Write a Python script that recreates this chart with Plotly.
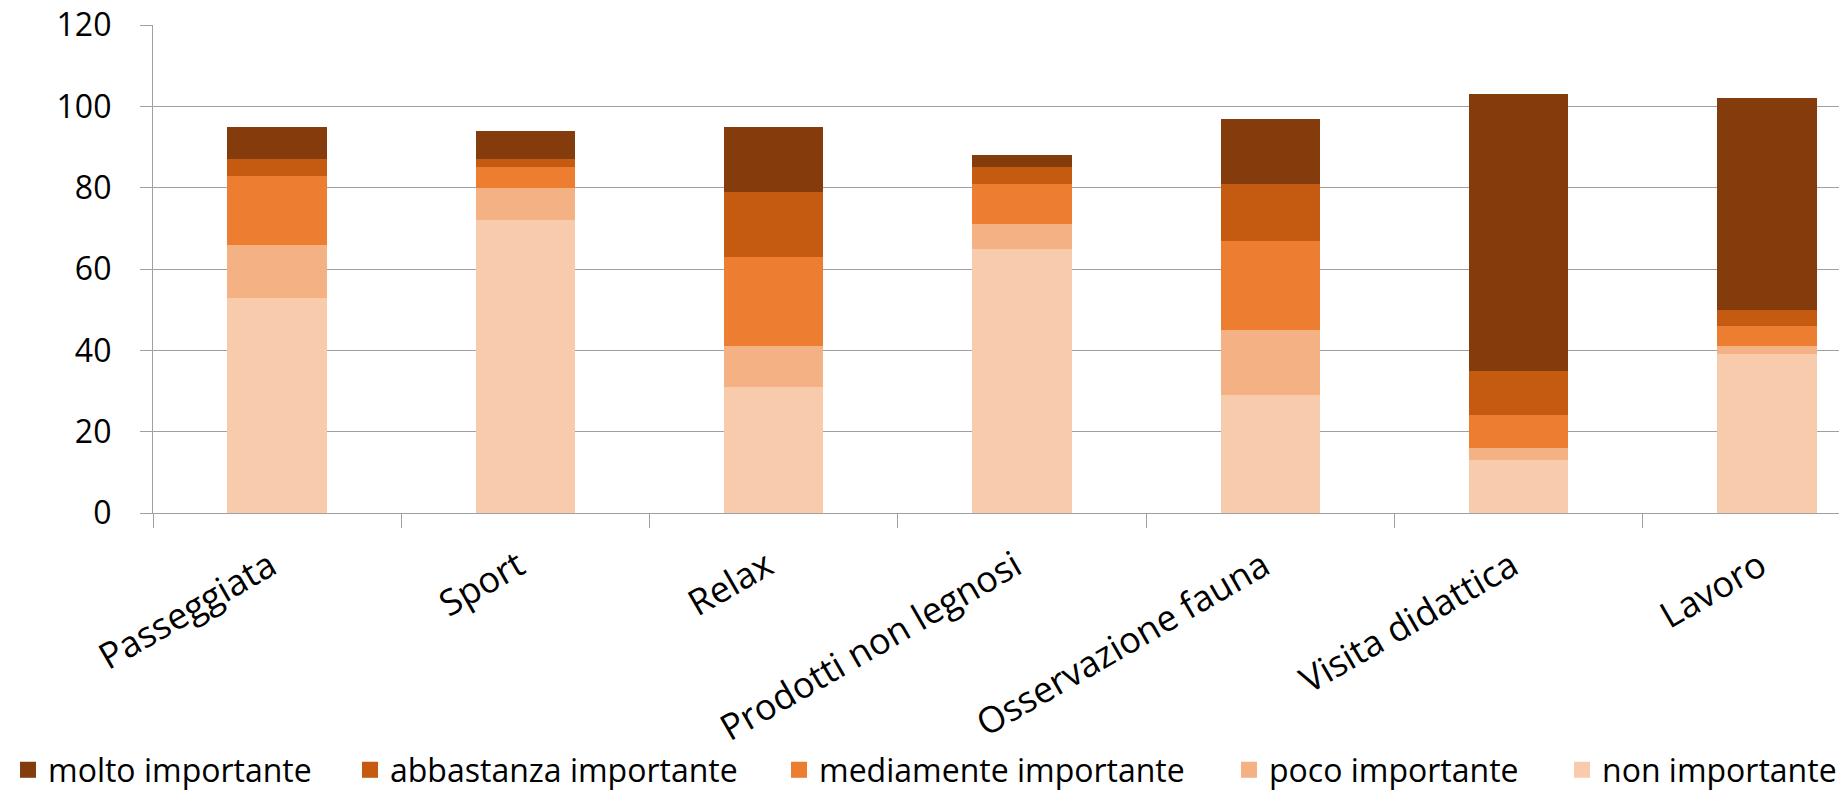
import plotly.graph_objects as go

categories = ["Passeggiata", "Sport", "Relax", "Prodotti non legnosi",
              "Osservazione fauna", "Visita didattica", "Lavoro"]

non_importante = [53, 72, 31, 65, 29, 13, 39]
poco_importante = [13, 8, 10, 6, 16, 3, 2]
mediamente_importante = [17, 5, 22, 10, 22, 8, 5]
abbastanza_importante = [4, 2, 16, 4, 14, 11, 4]
molto_importante = [8, 7, 16, 3, 16, 68, 52]

series = [
    ("non importante", non_importante, "#F8CBAD", "legend5"),
    ("poco importante", poco_importante, "#F4B183", "legend4"),
    ("mediamente importante", mediamente_importante, "#ED7D31", "legend3"),
    ("abbastanza importante", abbastanza_importante, "#C55A11", "legend2"),
    ("molto importante", molto_importante, "#843C0C", "legend"),
]

FONT = "Open Sans"
FS = 32
XFS = 36
OFF = 8  # page body margin
W, H = 1847 - OFF, 790 - OFF

fig = go.Figure()
for name, vals, color, lg in series:
    fig.add_trace(go.Bar(
        x=categories, y=vals, name=name,
        marker=dict(color=color, line=dict(width=0)),
        width=0.4, showlegend=False,
    ))
# legend entries (square swatches)
for name, vals, color, lg in reversed(series):
    fig.add_trace(go.Scatter(
        x=[None], y=[None], name=name, mode="markers",
        marker=dict(symbol="square", size=16, color=color, line=dict(width=0)),
        legend=lg, showlegend=True, hoverinfo="skip",
    ))

text_lefts = [42, 390, 819, 1269, 1602]
legend_names = ["legend", "legend2", "legend3", "legend4", "legend5"]
legends = {}
for lg, tl in zip(legend_names, text_lefts):
    legends[lg] = dict(
        orientation="h", xref="container", yref="container",
        x=(tl - 40 - OFF) / W, y=1 - (770 - OFF) / H,
        xanchor="left", yanchor="middle",
        font=dict(family=FONT, size=FS, color="#000000"),
        bgcolor="rgba(0,0,0,0)", borderwidth=0,
    )

fig.update_layout(
    width=W, height=H,
    barmode="stack",
    plot_bgcolor="white", paper_bgcolor="white",
    margin=dict(l=153 - OFF, r=0, t=25 - OFF, b=H - (513 - OFF), pad=0,
                autoexpand=False),
    font=dict(family=FONT, size=FS, color="#000000"),
    showlegend=True,
    **legends,
)

fig.update_xaxes(
    type="category", range=[-0.5, 6.322],
    tickson="boundaries", ticks="outside", ticklen=14, tickcolor="#A0A0A0",
    tickwidth=1.3, showline=True, linecolor="#A0A0A0", linewidth=1.3,
    showgrid=False, tickangle=-30, ticklabelstandoff=17, ticklabelshift=-7,
    ticklabeloverflow="allow",
    tickfont=dict(family=FONT, size=XFS, color="#000000"),
)
fig.update_yaxes(
    range=[0, 120.04], tickvals=[0, 20, 40, 60, 80, 100, 120],
    ticks="outside", ticklen=12, tickcolor="#A0A0A0", tickwidth=1.3,
    showline=True, linecolor="#A0A0A0", linewidth=1.3,
    showgrid=True, gridcolor="#A0A0A0", gridwidth=1.3,
    zeroline=False, ticklabelstandoff=22, ticklabeloverflow="allow",
    tickfont=dict(family=FONT, size=FS, color="#000000"),
)

fig.write_html("out.html")
